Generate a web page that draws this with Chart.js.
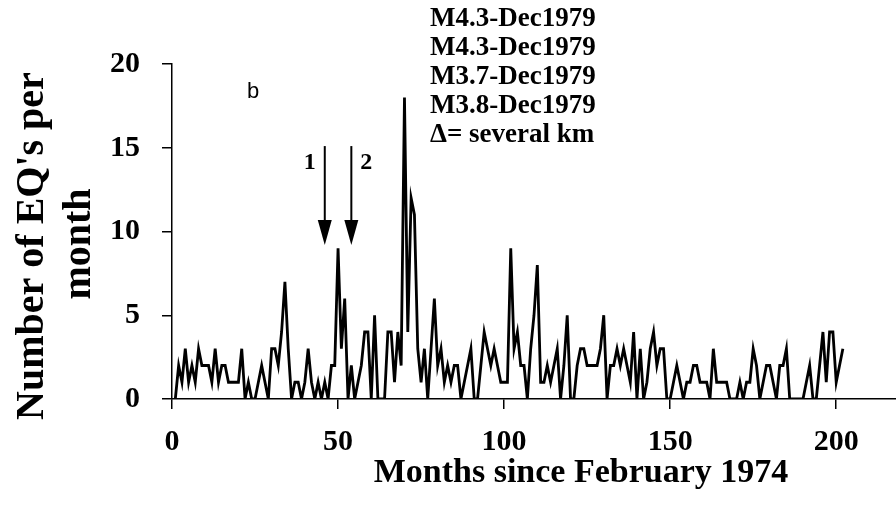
<!DOCTYPE html>
<html>
<head>
<meta charset="utf-8">
<script src="https://cdn.jsdelivr.net/npm/chart.js@4/dist/chart.umd.min.js"></script>
<style>
  html, body { margin: 0; padding: 0; background: #fff; }
  #wrap { width: 896px; height: 508px; }
</style>
</head>
<body>
<div id="wrap"><canvas id="eqChart" width="896" height="508"></canvas></div>
<script>
// monthly earthquake counts, starting at month 1 (March 1974)
const firstMonth = 1;
const eqCounts = [
  0, 2, 1, 3, 1, 2, 1, 3, 2, 2, 2, 1, 3, 1, 2, 2, 1, 1, 1, 1,
  3, 0, 1, 0, 0, 1, 2, 1, 0, 3, 3, 2, 4, 7, 3, 0, 1, 1, 0, 1,
  3, 1, 0, 1, 0, 1, 0, 2, 2, 9, 3, 6, 0, 2, 0, 1, 2, 4, 4, 0,
  5, 0, 0, 0, 4, 4, 1, 4, 2, 18, 4, 12, 11, 3, 1, 3, 0, 3, 6, 2,
  3, 1, 2, 1, 2, 2, 0, 1, 2, 3, 0, 0, 2, 4, 3, 2, 3, 2, 1, 1,
  1, 9, 3, 4, 2, 2, 0, 3, 5, 8, 1, 1, 2, 1, 2, 3, 0, 2, 5, 0,
  0, 2, 3, 3, 2, 2, 2, 2, 3, 5, 0, 2, 2, 3, 2, 3, 2, 1, 4, 0,
  3, 0, 1, 3, 4, 2, 3, 3, 0, 0, 1, 2, 1, 0, 1, 1, 2, 2, 1, 1,
  1, 0, 3, 1, 1, 1, 1, 0, 0, 0, 1, 0, 1, 1, 3, 2, 0, 1, 2, 2,
  1, 0, 2, 2, 3, 0, 0, 0, 0, 0, 1, 2, 0, 0, 2, 4, 1, 4, 4, 1,
  2, 3
];
const xTicks = [0, 50, 100, 150, 200];
const yTicks = [0, 5, 10, 15, 20];
const xTitle = 'Months since February 1974';
const yTitle = ["Number of EQ's per", 'month'];
const quakeNotes = ['M4.3-Dec1979', 'M4.3-Dec1979', 'M3.7-Dec1979', 'M3.8-Dec1979', '\u0394= several km'];
const arrowMonths = [46, 54];
const arrowLabels = ['1', '2'];
const panelLetter = 'b';

const points = eqCounts.map((v, i) => ({ x: firstMonth + i, y: v }));

const serif = '"Liberation Serif", "Times New Roman", serif';

const overlay = {
  id: 'overlay',
  afterDraw(chart) {
    const { ctx, scales: { x, y } } = chart;
    ctx.save();
    ctx.fillStyle = '#000';
    ctx.strokeStyle = '#000';
    ctx.textBaseline = 'middle';

    // axis titles
    ctx.textAlign = 'center';
    ctx.font = 'bold 40px ' + serif;
    ctx.save();
    ctx.translate(33, 246);
    ctx.rotate(-Math.PI / 2);
    ctx.fillText(yTitle[0], 0, 0);
    ctx.restore();
    ctx.save();
    ctx.translate(80, 244);
    ctx.rotate(-Math.PI / 2);
    ctx.fillText(yTitle[1], 0, 0);
    ctx.restore();
    ctx.font = 'bold 34px ' + serif;
    ctx.fillText(xTitle, 581, 473);

    // panel letter
    ctx.font = '22px "Liberation Sans", Arial, sans-serif';
    ctx.textAlign = 'left';
    ctx.fillText(panelLetter, 247, 92);

    // event notes
    ctx.font = 'bold 27px ' + serif;
    quakeNotes.forEach((t, i) => ctx.fillText(t, 430, 19 + i * 29));

    // arrows
    ctx.lineWidth = 2;
    ctx.font = 'bold 24px ' + serif;
    arrowMonths.forEach((m, i) => {
      const px = x.getPixelForValue(m);
      const top = y.getPixelForValue(15.1);
      const tip = y.getPixelForValue(9.2);
      ctx.beginPath();
      ctx.moveTo(px, top);
      ctx.lineTo(px, tip - 20);
      ctx.stroke();
      ctx.beginPath();
      ctx.moveTo(px, tip);
      ctx.lineTo(px - 7, tip - 25);
      ctx.lineTo(px + 7, tip - 25);
      ctx.closePath();
      ctx.fill();
      ctx.textAlign = 'center';
      ctx.fillText(arrowLabels[i], px + (i === 0 ? -15 : 15), 163);
    });
    ctx.restore();
  }
};

new Chart(document.getElementById('eqChart'), {
  type: 'line',
  data: {
    datasets: [{
      data: points,
      borderColor: '#000',
      borderWidth: 2.8,
      pointRadius: 0,
      tension: 0,
      fill: false
    }]
  },
  options: {
    responsive: false,
    animation: false,
    layout: { padding: { top: 64, right: 0, bottom: 0, left: 0 } },
    plugins: { legend: { display: false }, tooltip: { enabled: false } },
    scales: {
      x: {
        type: 'linear',
        min: 0,
        max: 218,
        afterFit: s => { s.height = 109; },
        afterBuildTicks: s => { s.ticks = xTicks.map(v => ({ value: v })); },
        border: { display: true, color: '#000', width: 1.5 },
        grid: { display: true, drawOnChartArea: false, drawTicks: true, tickLength: 10, color: '#000', lineWidth: 1.5 },
        ticks: { color: '#000', padding: 15, maxRotation: 0, font: { family: serif, weight: 'bold', size: 30 } }
      },
      y: {
        min: 0,
        max: 20,
        afterFit: s => { s.width = 172; },
        afterBuildTicks: s => { s.ticks = yTicks.map(v => ({ value: v })); },
        border: { display: true, color: '#000', width: 1.5 },
        grid: { display: true, drawOnChartArea: false, drawTicks: true, tickLength: 10, color: '#000', lineWidth: 1.5 },
        ticks: { color: '#000', padding: 22, font: { family: serif, weight: 'bold', size: 30 } }
      }
    }
  },
  plugins: [overlay]
});
</script>
</body>
</html>
